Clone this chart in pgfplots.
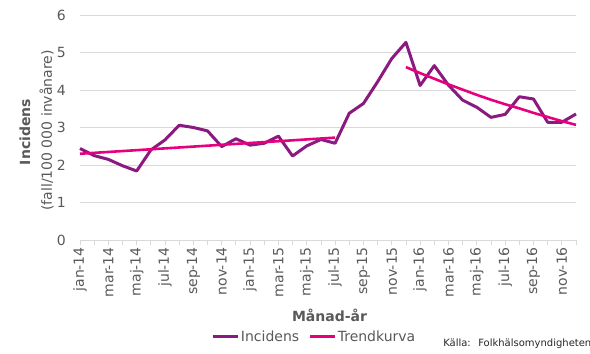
\documentclass[border=0pt]{standalone}
\usepackage{fontspec}
\setmainfont{DejaVu Sans}
\usepackage{pgfplots}
\pgfplotsset{compat=1.18}
\definecolor{incid}{HTML}{8B1A80}
\definecolor{trend}{HTML}{E6007E}
\definecolor{gridc}{HTML}{D9D9D9}
\definecolor{txt}{HTML}{595959}
\newcommand\fs{\fontsize{14bp}{17bp}\selectfont}
\begin{document}
\begin{tikzpicture}
\path[use as bounding box] (-80bp,-114bp) rectangle (510bp,240bp);
\begin{axis}[
  scale only axis, width=496bp, height=225bp,
  xmin=0, xmax=35, ymin=0, ymax=6,
  ytick={0,...,6},
  xtick={0,2,...,34},
  minor xtick={1,3,...,35},
  xticklabels={jan-14,mar-14,maj-14,jul-14,sep-14,nov-14,jan-15,mar-15,maj-15,jul-15,sep-15,nov-15,jan-16,mar-16,maj-16,jul-16,sep-16,nov-16},
  /pgf/number format/assume math mode=true,
  axis lines*=left,
  y axis line style={draw=none},
  x axis line style={gridc, line width=1bp},
  ymajorgrids, grid style={gridc, line width=1bp},
  tick align=outside,
  major tick length=5bp, minor tick length=5bp,
  xtick style={gridc, line width=0.8bp},
  minor x tick style={gridc, line width=0.8bp},
  ytick style={draw=none},
  xticklabel style={rotate=90, anchor=east, font=\fs, text=txt, inner sep=2bp},
  yticklabel style={font=\fs, text=txt, inner sep=0pt, xshift=-9bp},
  legend style={at={(axis description cs:0.472,-0.43)}, anchor=center, draw=none, fill=none,
    font=\fs, text=txt, legend columns=2, inner sep=0pt,
    /tikz/every even column/.append style={column sep=8bp},
    nodes={inner sep=1.5bp}},
  legend image code/.code={\draw[#1] (0bp,0bp) -- (25bp,0bp);},
  clip=false,
]
\addplot[incid, line width=3bp, line join=round] coordinates {
(0,2.44) (1,2.25) (2,2.15) (3,1.98) (4,1.84) (5,2.40) (6,2.67) (7,3.06) (8,3.00) (9,2.91)
(10,2.49) (11,2.70) (12,2.53) (13,2.58) (14,2.77) (15,2.24) (16,2.51) (17,2.68) (18,2.58) (19,3.38)
(20,3.64) (21,4.22) (22,4.84) (23,5.27) (24,4.12) (25,4.65) (26,4.13) (27,3.73) (28,3.54) (29,3.27)
(30,3.35) (31,3.82) (32,3.76) (33,3.14) (34,3.14) (35,3.36)};
\addlegendentry{Incidens}
\addplot[trend, line width=2.6bp] coordinates {(0,2.30) (18,2.73)};
\addlegendentry{Trendkurva}
\addplot[trend, line width=2.6bp, forget plot] coordinates {
(23,4.61) (24,4.45) (25,4.30) (26,4.15) (27,4.01) (28,3.87) (29,3.74) (30,3.62) (31,3.51) (32,3.39) (33,3.28) (34,3.17) (35,3.07)};
\node[rotate=90, font=\fs\bfseries, text=txt] at (axis description cs:-0.111,0.48) {Incidens};
\node[rotate=90, font=\fs, text=txt] at (axis description cs:-0.067,0.487) {(fall/100 000 invånare)};
\node[font=\fs\bfseries, text=txt] at (axis description cs:0.503,-0.333) {Månad-år};
\node[anchor=west, font=\fontsize{10bp}{12bp}\selectfont, text=black!85, inner sep=0pt] at (axis description cs:0.732,-0.462) {Källa:~ Folkhälsomyndigheten};
\end{axis}
\end{tikzpicture}
\end{document}
